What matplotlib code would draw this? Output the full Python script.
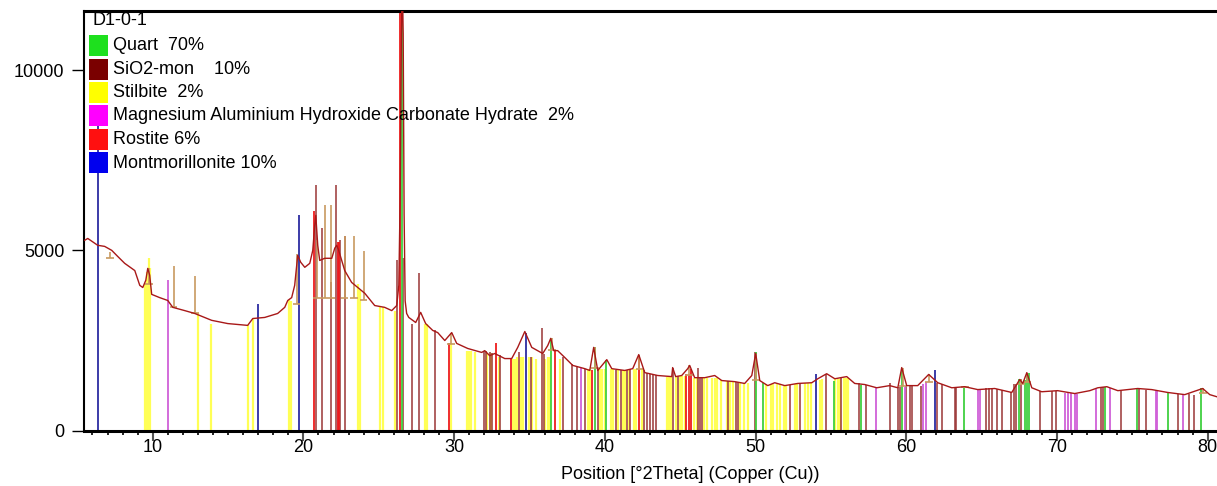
import matplotlib
matplotlib.use("Agg")
import matplotlib.pyplot as plt
from matplotlib.patches import Rectangle
from matplotlib.ticker import MultipleLocator

plt.rcParams['font.family'] = ['Liberation Sans', 'DejaVu Sans']

# ---------------- data ----------------
scan_x = [5.49, 5.69, 6.35, 6.81, 7.28, 7.68, 8.14, 8.81, 9.14, 9.34, 9.54, 9.67, 9.80, 9.93,
          10.46, 11.0, 11.33, 12.12, 12.79, 13.91, 14.98, 15.77, 16.3, 16.64, 17.43, 18.29,
          18.76, 18.96, 19.22, 19.42, 19.62, 19.82, 20.09, 20.42, 20.62, 20.75, 20.82, 20.95,
          21.08, 21.41, 21.88, 22.08, 22.21, 22.34, 22.54, 22.74, 23.2, 24.07, 24.73, 25.39,
          25.86, 26.19, 26.33, 26.42, 26.5, 26.56, 26.62, 26.68, 26.75, 26.85, 26.99, 27.45,
          27.78, 28.11, 28.58, 28.91, 29.38, 29.84, 30.17, 30.9, 31.83, 32.03, 32.36, 32.69,
          33.36, 33.82, 34.22, 34.49, 34.69, 34.89, 35.15, 35.88, 36.21, 36.41, 36.61, 36.87,
          37.34, 37.87, 38.67, 39.0, 39.26, 39.53, 40.13, 40.46, 41.32, 41.85, 42.25, 42.65,
          43.51, 44.44, 44.5, 44.7, 45.1, 45.5, 45.63, 45.96, 46.63, 47.29, 47.76, 48.62,
          49.28, 49.75, 50.01, 50.28, 50.81, 51.27, 51.94, 52.8, 53.73, 54.13, 54.72, 55.26,
          56.05, 56.58, 57.25, 58.04, 58.9, 59.44, 59.7, 60.03, 60.76, 61.49, 62.09, 63.02,
          63.88, 64.74, 65.87, 67.0, 67.53, 67.73, 68.0, 68.33, 68.99, 70.05, 71.18, 72.18,
          72.71, 73.31, 74.04, 75.36, 76.29, 77.35, 78.48, 79.67, 80.14, 80.62]
scan_y = [5280, 5330, 5140, 5110, 5000, 4830, 4640, 4440, 4030, 3970, 4170, 4500, 4310, 3780,
          3690, 3610, 3420, 3330, 3250, 3060, 2970, 2940, 2920, 3110, 3140, 3250,
          3420, 3610, 3690, 4030, 4860, 4670, 4530, 4640, 5000, 5690, 5970, 5140,
          4720, 4780, 4780, 5060, 5140, 5000, 4720, 4440, 4110, 3810, 3470, 3420,
          3330, 3470, 4030, 6500, 11000, 12500, 11000, 6000, 3600, 3250, 3140, 3000,
          3280, 2970, 2780, 2720, 2500, 2720, 2420, 2280, 2170, 2220, 2080, 2140,
          2000, 2000, 2310, 2560, 2750, 2560, 2310, 2140, 2360, 2560, 2220, 2220,
          2030, 1810, 1720, 1670, 2310, 1670, 1970, 1720, 1670, 1720, 2110, 1610,
          1530, 1500, 1750, 1500, 1530, 1720, 1810, 1470, 1470, 1530, 1390, 1360,
          1310, 1530, 2140, 1390, 1250, 1330, 1250, 1310, 1330, 1440, 1580, 1440,
          1500, 1310, 1280, 1190, 1250, 1190, 1750, 1250, 1250, 1560, 1330, 1190,
          1220, 1140, 1170, 1060, 1420, 1310, 1610, 1190, 1080, 1110, 1030, 1110,
          1190, 1220, 1110, 1170, 1140, 1060, 1000, 1170, 1000, 940]

quartz_pos = [26.55, 36.46, 39.33, 40.1, 50.0, 50.5, 55.19, 57.03, 59.72, 63.82, 67.46, 67.86,
              68.04, 68.13, 73.22, 75.34, 77.37, 79.59]
quartz_h = [12500, 2560, 2310, 1970, 2170, 1330, 1390, 1280, 1750, 1190, 1420, 1400,
            1610, 1600, 1220, 1170, 1060, 1170]

sio2_pos = [20.82, 21.2, 21.8, 22.14, 22.41, 22.74, 26.21, 26.61, 27.23, 27.67, 28.71, 31.99,
            32.14, 32.36, 32.52, 33.03, 34.31, 35.08, 35.83, 35.97, 37.23, 37.85, 38.16, 38.67,
            39.55, 40.77, 41.1, 41.47, 41.7, 42.6, 42.8, 42.98, 43.2, 43.42, 44.52, 44.86,
            46.19, 46.3, 46.45, 48.18, 48.73, 48.84, 49.99, 52.27, 52.93, 54.7, 55.7, 56.85,
            57.36, 58.9, 59.46, 59.57, 60.01, 60.23, 60.39, 61.01, 62.05, 62.34, 63.22, 63.33,
            65.32, 65.47, 65.69, 66.05, 66.36, 66.93, 67.15, 67.31, 67.64, 68.86, 69.64, 69.97,
            72.95, 73.06, 74.23, 75.45, 75.94, 78.03, 78.74, 79.1]
sio2_h = [6800, 5610, 4110, 6800, 5280, 5390, 4720, 4800, 2970, 4360, 2780, 2220,
          2220, 2170, 2150, 2100, 2170, 2030, 2860, 2140, 2030, 1850, 1800, 1720,
          1700, 1670, 1670, 1680, 1700, 1670, 1600, 1580, 1560, 1540, 1750, 1520,
          1750, 1480, 1480, 1390, 1360, 1360, 2170, 1280, 1310, 1580, 1450, 1310,
          1280, 1310, 1200, 1200, 1250, 1250, 1250, 1250, 1330, 1300, 1190, 1190,
          1170, 1170, 1170, 1150, 1130, 1060, 1300, 1300, 1420, 1100, 1110, 1110,
          1200, 1200, 1110, 1170, 1140, 1030, 1030, 1000]

stilbite_pos = [9.47, 9.62, 9.75, 9.85, 12.98, 13.84, 16.32, 16.66, 19.02, 19.2, 23.6, 23.75,
                25.06, 25.28, 26.06, 28.04, 28.2, 29.77, 30.83, 31.0, 31.15, 31.37,
                32.2, 32.45, 33.0, 33.9, 34.05, 34.2, 34.45, 34.6, 34.95, 35.2, 35.45, 36.05,
                36.25, 36.35, 37.05, 38.85, 39.0, 39.65, 39.8, 40.0, 40.4, 40.55, 40.9, 41.2,
                41.35, 41.6, 41.95, 42.1, 42.45, 44.1, 44.25, 44.4, 44.7, 45.0, 45.15, 45.3,
                45.9, 46.1, 46.6, 46.75, 47.1, 47.3, 47.45, 47.7, 48.1, 48.3, 48.5, 49.0,
                49.25, 49.5, 50.7, 51.0, 51.15, 51.4, 51.6, 51.9, 52.05, 52.6, 52.75, 53.3,
                53.45, 53.7, 54.25, 54.4, 55.3, 55.45, 55.6, 55.85, 56.0, 56.15]
stilbite_h = [4080, 4400, 4780, 4500, 3250, 2970, 2920, 3110, 3610, 3600, 4080, 3900,
              3420, 3420, 3330, 2970, 2950, 2440, 2220, 2220, 2220, 2170,
              2150, 2150, 2050, 2000, 2000, 2050, 2050, 2050, 2050, 2050, 2000, 2000,
              2050, 2050, 2000, 1700, 1700, 1700, 1700, 1700, 1700, 1700, 1680, 1680,
              1680, 1680, 1700, 1700, 1700, 1500, 1500, 1500, 1500, 1520, 1520, 1520,
              1470, 1470, 1470, 1470, 1470, 1470, 1450, 1400, 1380, 1380, 1360, 1340,
              1320, 1320, 1300, 1300, 1300, 1300, 1300, 1270, 1270, 1300, 1300, 1320,
              1320, 1330, 1400, 1420, 1420, 1420, 1420, 1450, 1450, 1450]

mahc_pos = [11.0, 22.3, 38.45, 57.96, 59.9, 61.12, 61.28, 64.73, 64.88, 70.52, 70.7, 70.92,
            71.18, 71.36, 72.62, 73.5, 76.54, 76.67, 78.36]
mahc_h = [4170, 5000, 1750, 1190, 1200, 1300, 1350, 1140, 1140, 1050, 1050, 1040,
          1030, 1030, 1150, 1180, 1100, 1100, 1000]

rostite_pos = [20.72, 22.28, 22.35, 26.39, 29.66, 32.8, 33.76, 36.68, 39.15, 42.27, 45.41,
               45.57, 45.7]
rostite_h = [6100, 5220, 5220, 12500, 2440, 2420, 2000, 2220, 1670, 2110, 1580, 1580, 1700]

montm_pos = [6.37, 16.99, 19.71, 34.8, 54.04, 61.89]
montm_h = [8800, 3500, 5970, 2720, 1580, 1670]

marker_pos = [7.15, 9.74, 11.39, 12.79, 19.55, 20.9, 21.41, 21.86, 22.74, 23.34, 24.0, 29.8,
              36.5, 39.35, 42.3, 45.6, 50.0, 59.8, 61.5, 63.9, 67.6, 68.0, 79.7]
marker_base = [4800, 4080, 3420, 3250, 3500, 3670, 3670, 3670, 3670, 3670, 3610, 2400,
               2250, 1750, 1700, 1550, 1400, 1250, 1350, 1200, 1300, 1350, 1050]
marker_top = [4950, 4500, 4560, 4280, 4900, 5300, 6250, 6250, 5390, 5390, 4970, 2720,
              2560, 2310, 2110, 1810, 2140, 1750, 1560, 1250, 1420, 1610, 1170]

sample_name = "D1-0-1"
legend_labels = ["Quart  70%", "SiO2-mon    10%", "Stilbite  2%",
                 "Magnesium Aluminium Hydroxide Carbonate Hydrate  2%",
                 "Rostite 6%", "Montmorillonite 10%"]
legend_colors = ["#1ee01e", "#7a0000", "#ffff00", "#ff00ff", "#ff1010", "#0000ee"]

# ---------------- figure ----------------
W, H = 1217, 486
fig = plt.figure(figsize=(W / 100, H / 100), dpi=100)
ax = fig.add_axes([84 / W, (H - 430.7) / H, (W - 84) / W, (430.7 - 11) / H])
ax.set_xlim(5.44, 80.62)
ax.set_ylim(0, 11636)

ax.vlines(stilbite_pos, 0, stilbite_h, colors="#ffff55", linewidth=1.6, zorder=1)
ax.vlines(sio2_pos, 0, sio2_h, colors="#9a3535", linewidth=1.1, zorder=1.2)
ax.vlines(mahc_pos, 0, mahc_h, colors="#d060d8", linewidth=1.3, zorder=1.2)
ax.vlines(quartz_pos, 0, quartz_h, colors="#40d040", linewidth=1.3, zorder=1.3)
ax.vlines(rostite_pos, 0, rostite_h, colors="#ee1c1c", linewidth=1.3, zorder=1.3)
ax.vlines(montm_pos, 0, montm_h, colors="#1a1a9a", linewidth=1.2, zorder=1.4)

ax.vlines(marker_pos, marker_base, marker_top, colors="#c89a60", linewidth=1.2, zorder=2)
ax.hlines(marker_base, [p - 0.25 for p in marker_pos], [p + 0.25 for p in marker_pos],
          colors="#c89a60", linewidth=1.2, zorder=2)

ax.plot(scan_x, scan_y, color="#a81818", linewidth=1.0, zorder=3)

# axes styling
ax.spines["right"].set_visible(False)
ax.spines["bottom"].set_linewidth(2.2)
ax.spines["top"].set_linewidth(2.2)
ax.spines["left"].set_linewidth(1.5)

ax.set_yticks([0, 5000, 10000])
ax.set_yticklabels(["0", "5000", "10000"])
ax.xaxis.set_major_locator(MultipleLocator(10))
ax.xaxis.set_minor_locator(MultipleLocator(1))
ax.tick_params(axis="y", direction="out", length=8.6, width=1.0, pad=5.5, labelsize=13)
ax.tick_params(axis="x", which="major", direction="out", length=7.2, width=1.5,
               color="#555555", pad=-1.5, labelsize=13)
ax.tick_params(axis="x", which="minor", direction="out", length=3.0, width=1.2)
ax.set_xlabel("Position [°2Theta] (Copper (Cu))", fontsize=13)
ax.xaxis.set_label_coords((690 - 84) / (W - 84), (430.7 - 474) / (430.7 - 11))
ax.xaxis.label.set_va("center")

# legend block
fig.text(92 / W, 1 - 20.5 / H, sample_name, fontsize=13, va="center", ha="left")
row_tops = [35, 58.5, 82, 105.5, 129, 152.5]
for top, lab, col in zip(row_tops, legend_labels, legend_colors):
    r = Rectangle((89 / W, 1 - (top + 21) / H), 19 / W, 21 / H, transform=fig.transFigure,
                  facecolor=col, edgecolor="none", zorder=5)
    fig.add_artist(r)
    fig.text(113 / W, 1 - (top + 10.5) / H, lab, fontsize=13, va="center", ha="left", zorder=6)

fig.savefig("out.png", dpi=100)
